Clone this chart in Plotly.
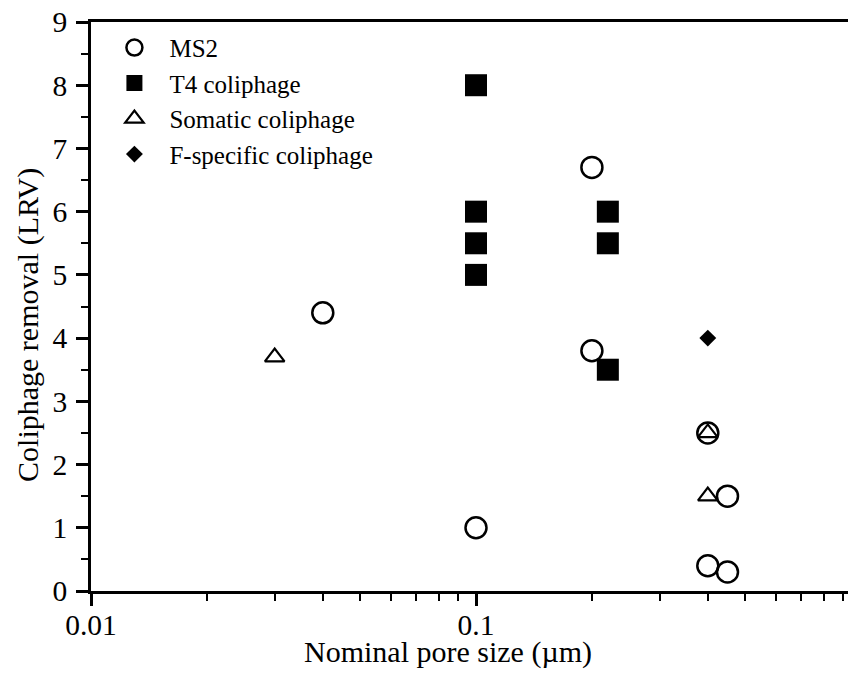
import plotly.graph_objects as go

# Data
ms2_x = [0.04, 0.1, 0.2, 0.2, 0.4, 0.4, 0.45, 0.45]
ms2_y = [4.4, 1.0, 6.7, 3.8, 2.5, 0.4, 1.5, 0.3]

t4_x = [0.1, 0.1, 0.1, 0.1, 0.22, 0.22, 0.22]
t4_y = [8.0, 6.0, 5.5, 5.0, 6.0, 5.5, 3.5]

som_x = [0.03, 0.4, 0.4]
som_y = [3.7, 2.5, 1.5]

fsp_x = [0.4]
fsp_y = [4.0]

x_tickvals = [0.01, 0.1, 1]
x_ticktext = ["0.01", "0.1", "1"]
x_minor = [k * 0.01 for k in range(2, 10)] + [k * 0.1 for k in range(2, 10)]

x_title = "Nominal pore size (µm)"
y_title = "Coliphage removal (LRV)"

FONT = "Liberation Serif"

fig = go.Figure()
fig.add_trace(go.Scatter(
    x=ms2_x, y=ms2_y, mode="markers", name="MS2", legendgroup="a",
    marker=dict(symbol="circle-open", size=21, color="black", line=dict(width=2.5, color="black")),
))
fig.add_trace(go.Scatter(
    x=t4_x, y=t4_y, mode="markers", name="T4 coliphage", legendgroup="b",
    marker=dict(symbol="square", size=22, color="black", line=dict(width=0)),
))
fig.add_trace(go.Scatter(
    x=som_x, y=som_y, mode="markers", name="Somatic coliphage", legendgroup="c",
    marker=dict(symbol="triangle-up-open", size=17, color="black", line=dict(width=2.2, color="black")),
))
fig.add_trace(go.Scatter(
    x=fsp_x, y=fsp_y, mode="markers", name="F-specific coliphage", legendgroup="d",
    marker=dict(symbol="diamond", size=13, color="black", line=dict(width=0)),
))

fig.update_layout(
    width=848, height=666,
    margin=dict(l=83, r=0, t=14, b=83, autoexpand=False),
    paper_bgcolor="white", plot_bgcolor="white",
    font=dict(family=FONT, size=26, color="black"),
    showlegend=True,
    legend=dict(
        x=0.011, y=0.995, xanchor="left", yanchor="top",
        bgcolor="rgba(0,0,0,0)", borderwidth=0,
        font=dict(family=FONT, size=25, color="black"),
        tracegroupgap=0, itemwidth=60,
    ),
    xaxis=dict(
        type="log", range=[-2, -0.013], automargin=False,
        tickvals=x_tickvals, ticktext=x_ticktext,
        tickfont=dict(family=FONT, size=29.5), ticklabelstandoff=-6,
        ticklabeloverflow="allow",
        ticks="outside", ticklen=12, tickwidth=2.5, tickcolor="black",
        minor=dict(tickvals=x_minor, ticks="outside", ticklen=7, tickwidth=2, tickcolor="black"),
        showline=True, linewidth=2.5, linecolor="black", mirror=True,
        showgrid=False, zeroline=False,
    ),
    yaxis=dict(
        range=[0, 9], dtick=1, tick0=0, automargin=False,
        tickfont=dict(family=FONT, size=29.5), ticklabelstandoff=3,
        ticklabeloverflow="allow",
        ticks="outside", ticklen=12, tickwidth=2.5, tickcolor="black",
        minor=dict(dtick=0.5, ticks="outside", ticklen=7, tickwidth=2, tickcolor="black"),
        showline=True, linewidth=2.5, linecolor="black", mirror=False,
        showgrid=False, zeroline=False,
    ),
    annotations=[
        dict(text=x_title, xref="paper", yref="paper", x=0.4667, y=-0.107,
             xanchor="center", yanchor="middle", showarrow=False,
             font=dict(family=FONT, size=30, color="black")),
        dict(text=y_title, xref="paper", yref="paper", x=-0.0824, y=0.4675,
             xanchor="center", yanchor="middle", showarrow=False, textangle=-90,
             font=dict(family=FONT, size=30, color="black")),
    ],
)

fig.write_html("out.html")
